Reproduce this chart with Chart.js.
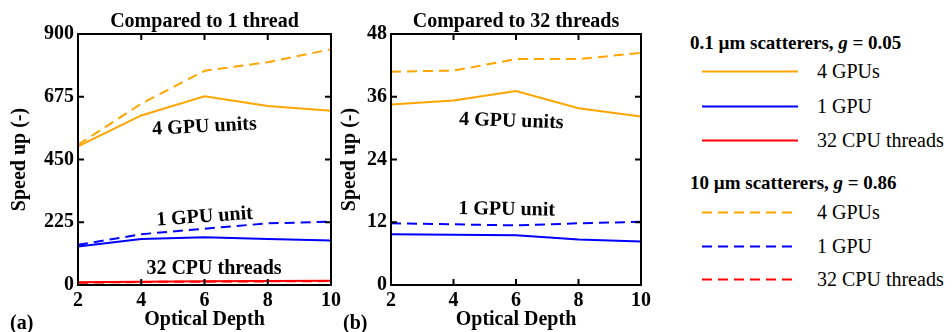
<!DOCTYPE html>
<html>
<head>
<meta charset="utf-8">
<script src="https://cdn.jsdelivr.net/npm/chart.js@4.4.1/dist/chart.umd.min.js"></script>
<style>
  body { margin: 0; width: 952px; height: 332px; background: #fff; position: relative; overflow: hidden; font-family: "Liberation Serif", serif; color: #000; }
  .box { position: absolute; top: 0; height: 332px; }
  #boxA { left: 0; width: 345px; }
  #boxB { left: 335px; width: 320px; }
  .tag { position: absolute; top: 310px; font-size: 20px; font-weight: bold; line-height: 24px; }
  .row { position: absolute; height: 24px; line-height: 24px; white-space: nowrap; }
  .head { left: 690px; font-size: 19px; font-weight: bold; }
  .item { left: 702px; font-size: 20px; }
  .item svg { position: absolute; left: 0; top: 11px; }
  .item span { position: absolute; left: 115px; top: 0; }
</style>
</head>
<body>
<div class="box" id="boxA"><canvas id="chartA"></canvas></div>
<div class="box" id="boxB"><canvas id="chartB"></canvas></div>
<div class="tag" style="left:10px">(a)</div>
<div class="tag" style="left:343px">(b)</div>
<div id="legend"></div>
<script>
// Profundidad óptica (eje x)
const depth = [2, 4, 6, 8, 10];

// (a) comparado con 1 hilo
const smallGpu4A = [497, 608, 677, 642, 625];
const smallGpu1A = [138, 165, 171, 165, 160];
const smallCpu32A = [10, 12, 13, 14, 15];
const largeGpu4A = [503, 650, 768, 799, 845];
const largeGpu1A = [144, 182, 202, 221, 227];
const largeCpu32A = [8, 11, 12, 13, 14];

// (b) comparado con 32 hilos
const smallGpu4B = [34.5, 35.3, 37.1, 33.8, 32.2];
const smallGpu1B = [9.7, 9.6, 9.5, 8.7, 8.3];
const largeGpu4B = [40.8, 41.0, 43.2, 43.2, 44.4];
const largeGpu1B = [11.8, 11.6, 11.4, 11.8, 12.1];

const ticksA = [0, 225, 450, 675, 900];
const ticksB = [0, 12, 24, 36, 48];

// textos dentro de los gráficos: [texto, x, y, giro en grados]
const notesA = [['4 GPU units', 6, 567, -3], ['1 GPU unit', 6, 244, -4], ['32 CPU threads', 6.3, 57, 0]];
const notesB = [['4 GPU units', 5.85, 31.3, 2], ['1 GPU unit', 5.7, 14.4, 1]];

const ORANGE = '#FFA500', BLUE = '#0000FF', RED = '#FF0000';
const FONT = '"Liberation Serif", serif';
Chart.defaults.font.family = FONT;
Chart.defaults.color = '#000';

function serie(vals, color, dashed) {
    return {
        data: depth.map((x, i) => ({ x: x, y: vals[i] })),
        borderColor: color,
        borderWidth: 2,
        borderDash: dashed ? [10, 6] : [],
        pointRadius: 0,
        tension: 0
    };
}

// marco negro y marcas hacia adentro
const frame = {
    id: 'frame',
    afterDatasetsDraw(chart) {
        const { ctx, chartArea: a, scales: { x, y } } = chart;
        ctx.save();
        ctx.strokeStyle = '#000';
        ctx.lineWidth = 2;
        ctx.strokeRect(a.left, a.top, a.right - a.left, a.bottom - a.top);
        const len = 6;
        ctx.beginPath();
        x.ticks.forEach(t => {
            const px = x.getPixelForValue(t.value);
            if (px <= a.left + 1 || px >= a.right - 1) return;
            ctx.moveTo(px, a.bottom); ctx.lineTo(px, a.bottom - len);
            ctx.moveTo(px, a.top); ctx.lineTo(px, a.top + len);
        });
        y.ticks.forEach(t => {
            const py = y.getPixelForValue(t.value);
            if (py <= a.top + 1 || py >= a.bottom - 1) return;
            ctx.moveTo(a.left, py); ctx.lineTo(a.left + len, py);
            ctx.moveTo(a.right, py); ctx.lineTo(a.right - len, py);
        });
        ctx.stroke();
        ctx.restore();
    }
};

function notes(list) {
    return {
        id: 'notes',
        afterDatasetsDraw(chart) {
            const { ctx, scales: { x, y } } = chart;
            ctx.save();
            ctx.font = 'bold 20px ' + FONT;
            ctx.fillStyle = '#000';
            ctx.textAlign = 'center';
            ctx.textBaseline = 'middle';
            list.forEach(n => {
                ctx.save();
                ctx.translate(x.getPixelForValue(n[1]), y.getPixelForValue(n[2]));
                ctx.rotate(n[3] * Math.PI / 180);
                ctx.fillText(n[0], 0, 0);
                ctx.restore();
            });
            ctx.restore();
        }
    };
}

function config(datasets, title, yTicks, yWidth, yTitlePad, list) {
    return {
        type: 'line',
        data: { datasets: datasets },
        options: {
            responsive: true,
            maintainAspectRatio: false,
            animation: false,
            layout: { padding: { left: 0, right: 14, top: 0, bottom: 0 } },
            plugins: {
                legend: { display: false },
                tooltip: { enabled: false },
                title: {
                    display: true,
                    text: title,
                    fullSize: false,
                    font: { size: 20, weight: 'bold' },
                    padding: { top: 10, bottom: 0 }
                }
            },
            scales: {
                x: {
                    type: 'linear',
                    min: 2, max: 10,
                    grid: { display: false, drawTicks: false },
                    border: { display: false },
                    ticks: { stepSize: 2, padding: 4, font: { size: 20, weight: 'bold' } },
                    title: { display: true, text: 'Optical Depth', font: { size: 20, weight: 'bold' }, padding: { top: 0, bottom: 0 } },
                    afterFit: s => { s.height = 47; }
                },
                y: {
                    min: yTicks[0], max: yTicks[yTicks.length - 1],
                    grid: { display: false, drawTicks: false },
                    border: { display: false },
                    ticks: { padding: 4, font: { size: 20, weight: 'bold' } },
                    afterBuildTicks: s => { s.ticks = yTicks.map(v => ({ value: v })); },
                    title: { display: true, text: 'Speed up (-)', font: { size: 20, weight: 'bold' }, padding: { top: yTitlePad, bottom: 0 } },
                    afterFit: s => { s.width = yWidth; }
                }
            }
        },
        plugins: [frame, notes(list)]
    };
}

new Chart(document.getElementById('chartA'), config([
    serie(smallGpu4A, ORANGE, false),
    serie(smallGpu1A, BLUE, false),
    serie(smallCpu32A, RED, false),
    serie(largeGpu4A, ORANGE, true),
    serie(largeGpu1A, BLUE, true),
    serie(largeCpu32A, RED, true)
], 'Compared to 1 thread', ticksA, 78, 8, notesA));

new Chart(document.getElementById('chartB'), config([
    serie(smallGpu4B, ORANGE, false),
    serie(smallGpu1B, BLUE, false),
    serie(largeGpu4B, ORANGE, true),
    serie(largeGpu1B, BLUE, true)
], 'Compared to 32 threads', ticksB, 56, 3, notesB));

// leyenda a la derecha
const legendRows = [
    ['head', '0.1 µm scatterers, <i>g</i> = 0.05', 43],
    ['item', '4 GPUs', 71, ORANGE, false],
    ['item', '1 GPU', 106, BLUE, false],
    ['item', '32 CPU threads', 140, RED, false],
    ['head', '10 µm scatterers, <i>g</i> = 0.86', 183],
    ['item', '4 GPUs', 212, ORANGE, true],
    ['item', '1 GPU', 246, BLUE, true],
    ['item', '32 CPU threads', 279, RED, true]
];
const legend = document.getElementById('legend');
legendRows.forEach(r => {
    const div = document.createElement('div');
    div.className = 'row ' + r[0];
    div.style.top = (r[2] - 12) + 'px';
    if (r[0] === 'head') {
        div.innerHTML = r[1];
    } else {
        div.innerHTML = '<svg width="96" height="3"><line x1="0" y1="1.5" x2="96" y2="1.5" stroke="' + r[3] +
            '" stroke-width="2"' + (r[4] ? ' stroke-dasharray="10 6"' : '') + '/></svg><span>' + r[1] + '</span>';
    }
    legend.appendChild(div);
});
</script>
</body>
</html>
